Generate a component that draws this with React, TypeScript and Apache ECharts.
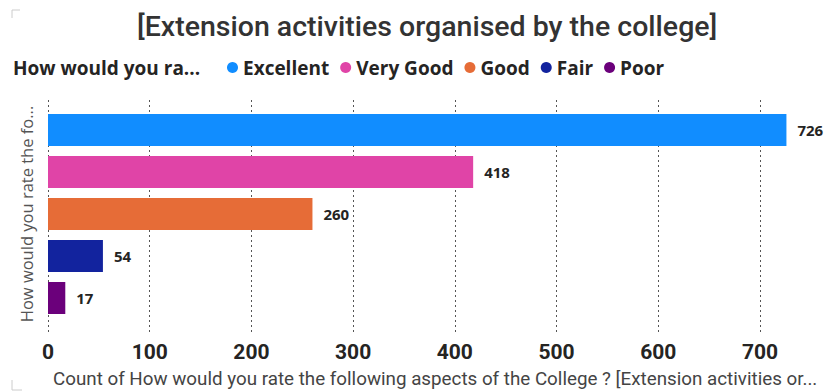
import React, { useEffect, useRef } from "react";
import * as echarts from "echarts";

const titleText = "[Extension activities organised by the college]";
const legendCaption = "How would you ra...";
const yAxisName = "How would you rate the fo...";
const xAxisName =
  "Count of How would you rate the following aspects of the College ? [Extension activities or...";
const seriesNames = ["Excellent", "Very Good", "Good", "Fair", "Poor"];
const seriesValues = [726, 418, 260, 54, 17];
const seriesColors = ["#118DFF", "#E044A7", "#E66C37", "#12239E", "#6B007B"];
const categories = [""];
const xMin = 0;
const xMax = 800;
const xInterval = 100;

const din = "Roboto, 'Noto Sans', sans-serif";
const ui = "'Open Sans', 'Noto Sans', sans-serif";

export default function App() {
  const ref = useRef<HTMLDivElement>(null);
  useEffect(() => {
    if (!ref.current) return;
    const chart = echarts.init(ref.current, null, { renderer: "svg" });
    const option: any = {
      animation: false,
      backgroundColor: "#ffffff",
      title: [
        {
          text: titleText,
          left: 137,
          top: 12,
          padding: 0,
          textStyle: { fontFamily: din, fontSize: 28.5, fontWeight: 500, color: "#333333" },
        },
        {
          text: legendCaption,
          left: 13,
          top: 58,
          padding: 0,
          textStyle: { fontFamily: ui, fontSize: 19, fontWeight: "bold", color: "#252423" },
        },
        {
          text: xAxisName,
          left: 53,
          top: 369,
          padding: 0,
          textStyle: { fontFamily: din, fontSize: 18.8, fontWeight: "normal", color: "#444444" },
        },
      ],
      legend: {
        left: 227,
        top: 58,
        padding: 0,
        icon: "circle",
        itemWidth: 11,
        itemHeight: 11,
        itemGap: 11,
        data: seriesNames,
        textStyle: { fontFamily: ui, fontSize: 19, fontWeight: "bold", color: "#252423" },
      },
      grid: [
        { left: 48, right: -35.7, top: 95, height: 238, outerBoundsMode: "none", containLabel: false },
        { left: 48, right: -35.7, top: 100, height: 233, outerBoundsMode: "none", containLabel: false },
      ],
      xAxis: [
        {
          gridIndex: 0,
          type: "value",
          min: xMin,
          max: xMax,
          interval: xInterval,
          show: false,
          splitLine: { show: false },
        },
        {
          gridIndex: 1,
          type: "value",
          min: xMin,
          max: xMax,
          interval: xInterval,
          axisLine: { show: false },
          axisTick: { show: false },
          axisLabel: {
            margin: 8,
            showMaxLabel: false,
            fontFamily: din,
            fontSize: 21,
            fontWeight: "bold",
            color: "#252423",
          },
          splitLine: {
            show: true,
            lineStyle: { color: "#555555", width: 1, type: [2, 3] },
          },
        },
      ],
      yAxis: [
        {
          gridIndex: 0,
          type: "category",
          data: categories,
          inverse: true,
          axisLine: { show: false },
          axisTick: { show: false },
          axisLabel: { show: false },
          name: yAxisName,
          nameLocation: "middle",
          nameRotate: 90,
          nameGap: 13,
          nameTextStyle: { fontFamily: ui, fontSize: 16.5, color: "#555555" },
        },
        {
          gridIndex: 1,
          type: "value",
          show: false,
        },
      ],
      graphic: [
        {
          type: "polyline",
          shape: { points: [[12, 18], [12, 10], [20, 10]] },
          style: { stroke: "#cccccc", lineWidth: 1, fill: null },
          silent: true,
        },
        {
          type: "polyline",
          shape: { points: [[12, 380], [12, 390], [22, 390]] },
          style: { stroke: "#cccccc", lineWidth: 1, fill: null },
          silent: true,
        },
      ],
      series: seriesNames.map((name, i) => ({
        name,
        type: "bar",
        xAxisIndex: 0,
        yAxisIndex: 0,
        barWidth: 32,
        barGap: "31.25%",
        data: [seriesValues[i]],
        itemStyle: { color: seriesColors[i] },
        label: {
          show: true,
          position: "right",
          distance: 11,
          fontFamily: ui,
          fontSize: 15,
          fontWeight: "bold",
          color: "#252423",
        },
      })),
    };
    chart.setOption(option);
    return () => chart.dispose();
  }, []);
  return (
    <div
      ref={ref}
      style={{ position: "fixed", left: 0, top: 0, width: 826, height: 391 }}
    />
  );
}
